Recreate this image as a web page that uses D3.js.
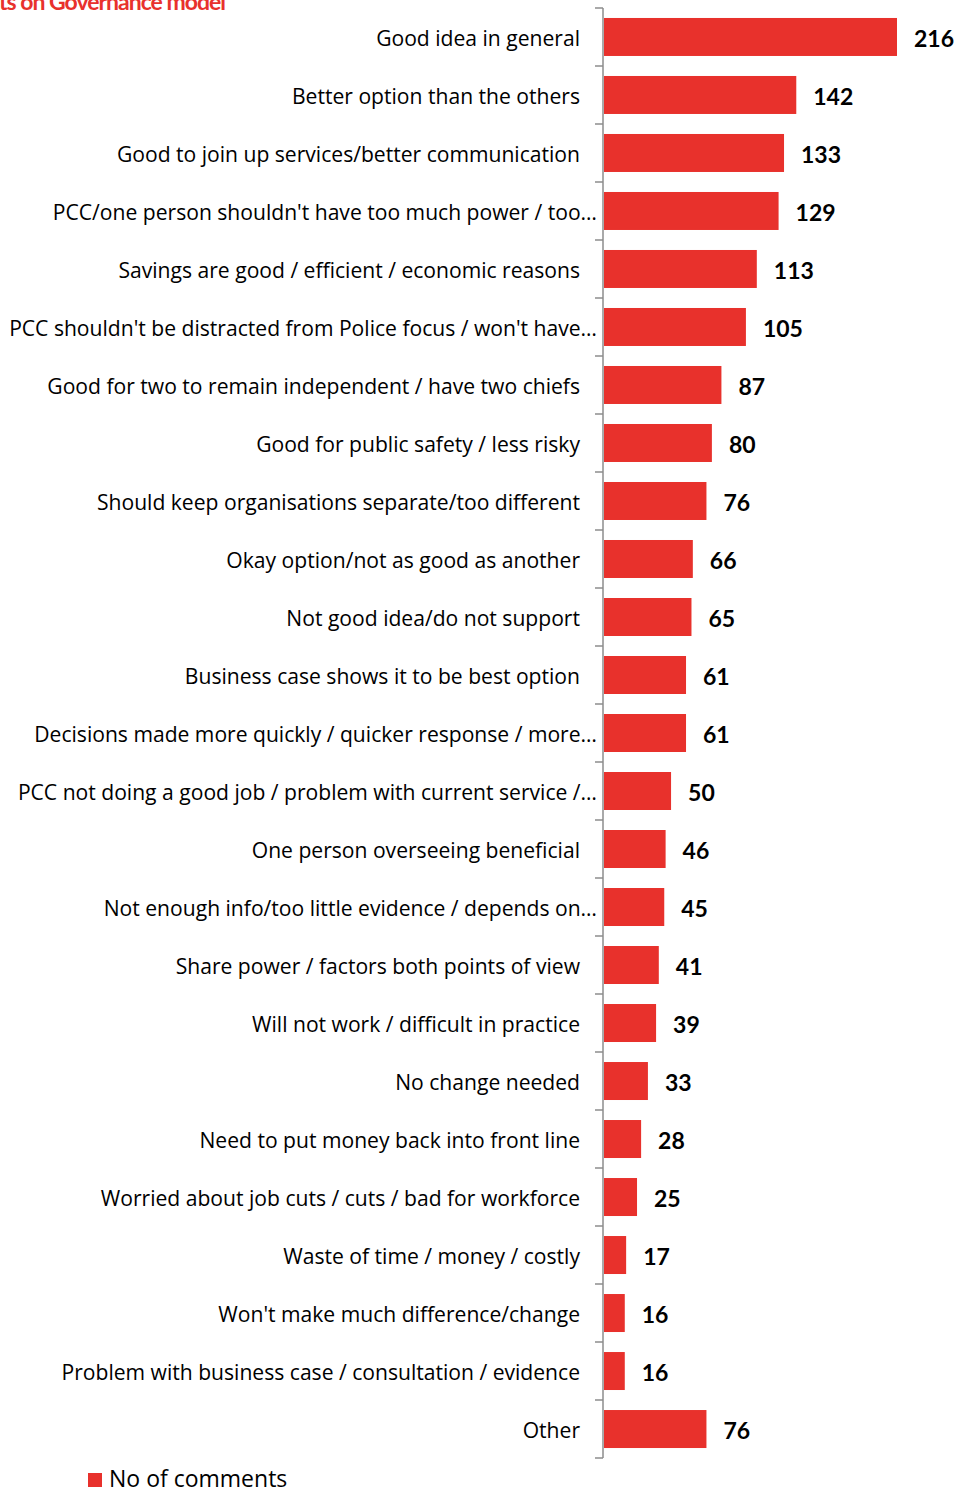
<!DOCTYPE html>
<html>
<head>
<meta charset="utf-8">
<script src="https://cdn.jsdelivr.net/npm/d3@7"></script>
<style>
  html, body { margin: 0; padding: 0; background: #fff; }
  svg { display: block; }
</style>
</head>
<body>
<script>
const categories = [
  "Good idea in general",
  "Better option than the others",
  "Good to join up services/better communication",
  "PCC/one person shouldn't have too much power / too…",
  "Savings are good / efficient / economic reasons",
  "PCC shouldn't be distracted from Police focus / won't have…",
  "Good for two to remain independent / have two chiefs",
  "Good for public safety / less risky",
  "Should keep organisations separate/too different",
  "Okay option/not as good as another",
  "Not good idea/do not support",
  "Business case shows it to be best option",
  "Decisions made more quickly / quicker response / more…",
  "PCC not doing a good job / problem with current service /…",
  "One person overseeing beneficial",
  "Not enough info/too little evidence / depends on…",
  "Share power / factors both points of view",
  "Will not work / difficult in practice",
  "No change needed",
  "Need to put money back into front line",
  "Worried about job cuts / cuts / bad for workforce",
  "Waste of time / money / costly",
  "Won't make much difference/change",
  "Problem with business case / consultation / evidence",
  "Other"
];
const values = [216, 142, 133, 129, 113, 105, 87, 80, 76, 66, 65, 61, 61, 50, 46, 45, 41, 39, 33, 28, 25, 17, 16, 16, 76];
const seriesName = "No of comments";
const titleText = "ts on Governance model";

(function () {
const W = 958, H = 1490;
const axisX = 603, yTop = 8, yBottom = 1458;
const red = "#E8312C";

const svg = d3.select("body").append("svg").attr("width", W).attr("height", H);

const y = d3.scaleBand().domain(categories).range([yTop, yBottom]).paddingInner(0.345).paddingOuter(0.172);
const x = d3.scaleLinear().domain([0, 216]).range([axisX, axisX + 294]);

// title (clipped at top)
svg.append("text")
  .attr("x", -1).attr("y", 10)
  .attr("font-family", "Lato, sans-serif").attr("font-weight", "bold")
  .attr("font-size", 23).attr("letter-spacing", -1)
  .attr("fill", red)
  .text(titleText);

// bars
svg.selectAll("rect.bar").data(values).join("rect")
  .attr("class", "bar")
  .attr("x", x(0) + 1)
  .attr("y", (d, i) => y(categories[i]))
  .attr("width", d => x(d) - x(0) - 1)
  .attr("height", y.bandwidth())
  .attr("fill", red);

// value labels
svg.selectAll("text.val").data(values).join("text")
  .attr("class", "val")
  .attr("x", d => x(d) + 17)
  .attr("y", (d, i) => y(categories[i]) + y.bandwidth() / 2)
  .attr("dy", "0.44em")
  .attr("font-family", "Lato, sans-serif").attr("font-weight", "bold")
  .attr("font-size", 23).attr("fill", "#000")
  .text(d => d);

// axis
const axisG = svg.append("g");
axisG.append("line")
  .attr("x1", axisX).attr("x2", axisX).attr("y1", yTop).attr("y2", yBottom)
  .attr("stroke", "#8c8c8c").attr("stroke-width", 1.5);
const boundaries = d3.range(categories.length + 1).map(i => yTop + i * ((yBottom - yTop) / categories.length));
axisG.selectAll("line.tick").data(boundaries).join("line")
  .attr("class", "tick")
  .attr("x1", axisX - 8).attr("x2", axisX).attr("y1", d => d).attr("y2", d => d)
  .attr("stroke", "#8c8c8c").attr("stroke-width", 1.5);

// category labels
svg.selectAll("text.cat").data(categories).join("text")
  .attr("class", "cat")
  .attr("x", d => d.endsWith("…") ? 597 : 580)
  .attr("y", d => y(d) + y.bandwidth() / 2)
  .attr("dy", "0.42em")
  .attr("text-anchor", "end")
  .attr("font-family", "'Open Sans', sans-serif")
  .attr("font-size", 21.1).attr("fill", "#000")
  .text(d => d);

// legend
svg.append("rect").attr("x", 88).attr("y", 1473).attr("width", 14).attr("height", 14).attr("fill", red);
svg.append("text").attr("x", 109).attr("y", 1487)
  .attr("font-family", "'Open Sans', sans-serif").attr("font-size", 23).attr("fill", "#000")
  .text(seriesName);
})();
</script>
</body>
</html>
